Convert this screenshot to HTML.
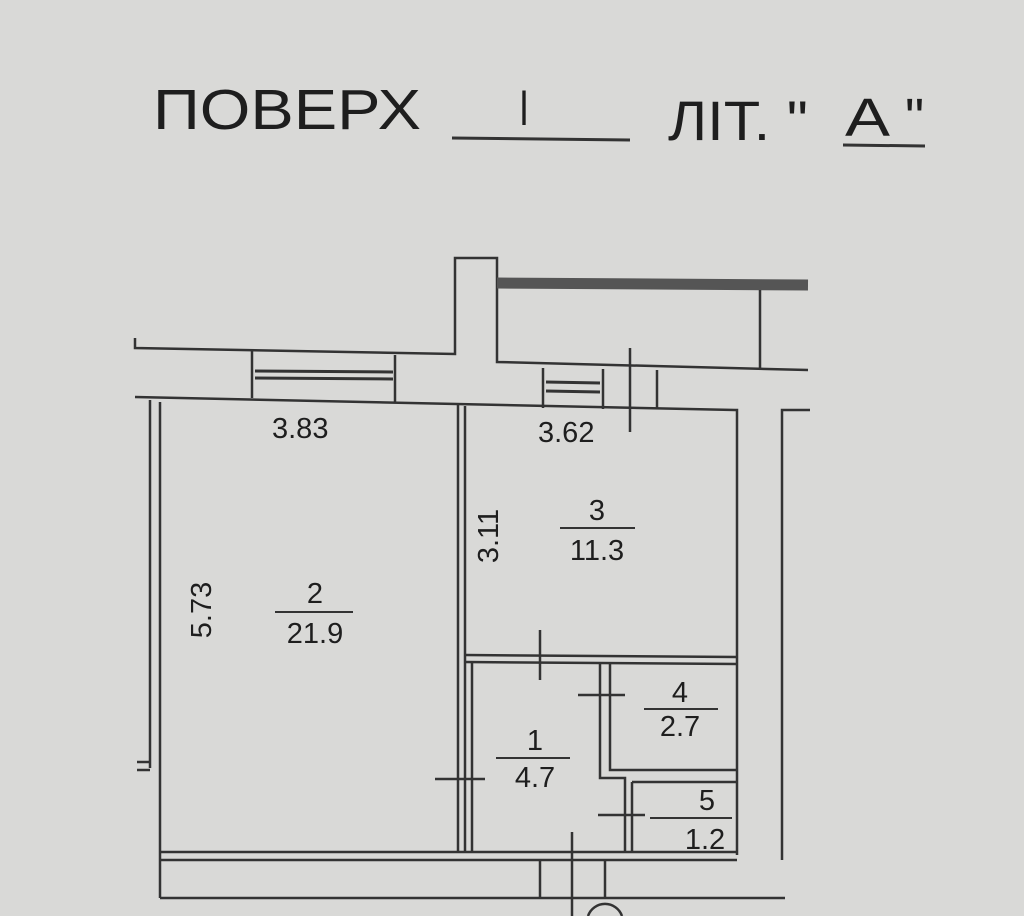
<!DOCTYPE html>
<html><head><meta charset="utf-8"><style>
html,body{margin:0;padding:0;background:#d9d9d7;}
svg{display:block}
text{font-family:"Liberation Sans",sans-serif;fill:#1e1e1e}
</style></head><body>
<svg width="1024" height="916" viewBox="0 0 1024 916" xmlns="http://www.w3.org/2000/svg">
<rect width="1024" height="916" fill="#d9d9d7"/>
<!-- header -->
<text x="153" y="129" font-size="57" textLength="268" lengthAdjust="spacingAndGlyphs">ПОВЕРХ</text>
<text x="519" y="125" font-size="50" textLength="10" lengthAdjust="spacingAndGlyphs">I</text>
<line x1="452" y1="138" x2="630" y2="140" stroke="#333" stroke-width="3"/>
<text x="668" y="140" font-size="56" textLength="140" lengthAdjust="spacingAndGlyphs">ЛІТ. "</text>
<text x="845" y="136" font-size="54" textLength="45" lengthAdjust="spacingAndGlyphs">A</text>
<text x="905" y="136" font-size="54">"</text>
<line x1="843" y1="145" x2="925" y2="146" stroke="#333" stroke-width="3"/>

<g stroke="#333" stroke-width="2.5" fill="none">
<polyline points="135,338 135,348 455,354 455,258 497,258 497,362 808,370"/>
<line x1="497" y1="283" x2="808" y2="285" stroke-width="11" stroke="#555"/>
<line x1="760" y1="290" x2="760" y2="368"/>
<line x1="252" y1="351" x2="252" y2="398"/>
<line x1="395" y1="355" x2="395" y2="402"/>
<line x1="255" y1="371" x2="393" y2="372" stroke-width="3"/>
<line x1="255" y1="378" x2="393" y2="379" stroke-width="3"/>
<polyline points="135,397 735,410 737,410 737,855"/>
<line x1="543" y1="368" x2="543" y2="408"/>
<line x1="603" y1="369" x2="603" y2="409"/>
<line x1="546" y1="382" x2="600" y2="383" stroke-width="3"/>
<line x1="546" y1="391" x2="600" y2="392" stroke-width="3"/>
<line x1="657" y1="370" x2="657" y2="409"/>
<line x1="630" y1="348" x2="630" y2="432"/>
<line x1="150" y1="400" x2="150" y2="768"/>
<line x1="160" y1="402" x2="160" y2="898"/>
<line x1="137" y1="762" x2="150" y2="762"/>
<line x1="137" y1="770" x2="150" y2="770"/>
<line x1="458" y1="405" x2="458" y2="852"/>
<line x1="465" y1="406" x2="465" y2="852"/>
<line x1="465" y1="655" x2="737" y2="657"/>
<line x1="465" y1="662" x2="737" y2="664"/>
<line x1="472" y1="662" x2="472" y2="852"/>
<polyline points="600,664 600,778 625,778 625,852"/>
<polyline points="610,664 610,770 737,770"/>
<line x1="632" y1="782" x2="632" y2="852"/>
<line x1="632" y1="782" x2="737" y2="782"/>
<line x1="160" y1="852" x2="737" y2="852"/>
<line x1="160" y1="860" x2="737" y2="860"/>
<line x1="160" y1="898" x2="785" y2="898"/>
<line x1="540" y1="860" x2="540" y2="898"/>
<line x1="605" y1="860" x2="605" y2="898"/>
<line x1="572" y1="832" x2="572" y2="916"/>
<path d="M588 916 A18 18 0 0 1 622 916"/>
<polyline points="810,410 782,410 782,860"/>
<line x1="540" y1="630" x2="540" y2="680"/>
<line x1="578" y1="695" x2="625" y2="695"/>
<line x1="435" y1="779" x2="485" y2="779"/>
<line x1="598" y1="815" x2="645" y2="815"/>
<line x1="275" y1="612" x2="353" y2="612" stroke-width="2"/>
<line x1="560" y1="528" x2="635" y2="528" stroke-width="2"/>
<line x1="644" y1="709" x2="718" y2="709" stroke-width="2"/>
<line x1="496" y1="758" x2="570" y2="758" stroke-width="2"/>
<line x1="650" y1="818" x2="732" y2="818" stroke-width="2"/>
</g>

<g font-size="29">
<text x="272" y="438">3.83</text>
<text x="538" y="442">3.62</text>
<text x="315" y="603" text-anchor="middle">2</text>
<text x="315" y="643" text-anchor="middle">21.9</text>
<text x="597" y="520" text-anchor="middle">3</text>
<text x="597" y="560" text-anchor="middle">11.3</text>
<text x="680" y="702" text-anchor="middle">4</text>
<text x="680" y="736" text-anchor="middle">2.7</text>
<text x="535" y="750" text-anchor="middle">1</text>
<text x="535" y="787" text-anchor="middle">4.7</text>
<text x="707" y="810" text-anchor="middle">5</text>
<text x="705" y="849" text-anchor="middle">1.2</text>
<text transform="translate(211,610) rotate(-90)" text-anchor="middle">5.73</text>
<text transform="translate(498,536) rotate(-90)" text-anchor="middle">3.11</text>
</g>
</svg>
</body></html>
